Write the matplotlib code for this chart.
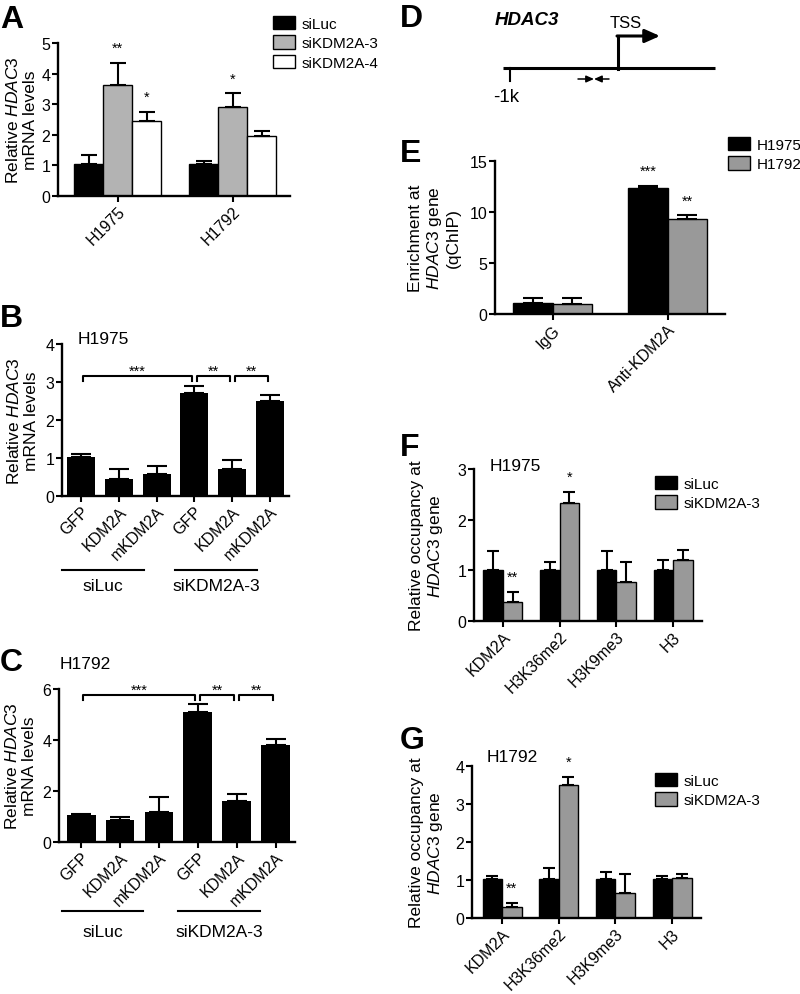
import matplotlib
matplotlib.use("Agg")
import matplotlib.pyplot as plt
import matplotlib.transforms as mtransforms
from matplotlib.patches import Patch
import numpy as np

plt.rcParams["font.family"] = ["Liberation Sans", "DejaVu Sans"]
plt.rcParams["mathtext.fontset"] = "custom"
plt.rcParams["mathtext.rm"] = "Liberation Sans"
plt.rcParams["mathtext.it"] = "Liberation Sans:italic"
plt.rcParams["mathtext.bf"] = "Liberation Sans:bold"

W, H = 800, 995

# ---------------- data ----------------
# A: HDAC3 mRNA after KDM2A knockdown
a_cells = ["H1975", "H1792"]
a_series = ["siLuc", "siKDM2A-3", "siKDM2A-4"]
a_mean = [[1.03, 1.03], [3.63, 2.90], [2.44, 1.95]]
a_err = [[0.30, 0.11], [0.72, 0.45], [0.32, 0.18]]
a_stars = [["", ""], ["**", "*"], ["*", ""]]

# B / C: rescue experiments
rescue_labels = ["GFP", "KDM2A", "mKDM2A", "GFP", "KDM2A", "mKDM2A"]
rescue_groups = ["siLuc", "siKDM2A-3"]
b_mean = [1.03, 0.46, 0.59, 2.72, 0.72, 2.50]
b_err = [0.07, 0.26, 0.19, 0.18, 0.23, 0.17]
c_mean = [1.05, 0.87, 1.18, 5.11, 1.61, 3.80]
c_err = [0.04, 0.10, 0.59, 0.30, 0.26, 0.25]
rescue_brackets = [(0, 3, "***"), (3, 4, "**"), (4, 5, "**")]

# E: qChIP
e_ab = ["IgG", "Anti-KDM2A"]
e_series = ["H1975", "H1792"]
e_mean = [[1.11, 12.35], [1.02, 9.33]]
e_err = [[0.49, 0.20], [0.55, 0.33]]
e_stars = [["", "***"], ["", "**"]]

# F / G: occupancy
occ_marks = ["KDM2A", "H3K36me2", "H3K9me3", "H3"]
occ_series = ["siLuc", "siKDM2A-3"]
f_mean = [[1.01, 1.01, 1.01, 1.01], [0.38, 2.33, 0.77, 1.21]]
f_err = [[0.38, 0.16, 0.38, 0.19], [0.20, 0.21, 0.40, 0.20]]
g_mean = [[1.03, 1.03, 1.03, 1.03], [0.28, 3.50, 0.66, 1.05]]
g_err = [[0.08, 0.28, 0.19, 0.08], [0.11, 0.21, 0.50, 0.11]]
occ_stars = [["", "", "", ""], ["**", "*", "", ""]]


def rect(x0, x1, ytop, ybot):
    return [x0 / W, 1 - ybot / H, (x1 - x0) / W, (ybot - ytop) / H]


def style(ax, ylim, yticks, xlim, labels, ylabel, ylabel_x):
    for s in ["top", "right"]:
        ax.spines[s].set_visible(False)
    for s in ["left", "bottom"]:
        ax.spines[s].set_linewidth(1.7)
    ax.set_ylim(*ylim)
    ax.set_yticks(yticks)
    ax.set_xlim(*xlim)
    ax.set_xticks(np.arange(len(labels)))
    ax.set_xticklabels(labels, rotation=45, ha="right", rotation_mode="anchor")
    ax.tick_params(direction="out", length=4.5, width=1.5, labelsize=11.5, pad=1)
    ax.set_ylabel(ylabel, fontsize=12.5, linespacing=1.15)
    ax.yaxis.set_label_coords(ylabel_x, 0.5)


def star(ax, x, y, s, dy=8):
    if s:
        ax.annotate(s, xy=(x, y), xytext=(0, dy), textcoords="offset points",
                    ha="center", va="baseline", fontsize=10.5)


def grouped(ax, means, errs, colors, width, capsize, stars=None):
    k = len(means)
    x = np.arange(len(means[0]))
    for s in range(k):
        xs = x + (s - (k - 1) / 2) * width
        ax.bar(xs, means[s], width, color=colors[s], edgecolor="black", linewidth=1, zorder=2)
        ax.errorbar(xs, means[s], yerr=[np.zeros(len(xs)), errs[s]], fmt="none",
                    ecolor="black", elinewidth=1.5, capsize=capsize, capthick=1.5, zorder=3)
        if stars:
            for xi, m, e, st in zip(xs, means[s], errs[s], stars[s]):
                star(ax, xi, m + e, st)


def legend(handles, labels, x, y):
    fig.legend(handles, labels, loc="upper left", bbox_to_anchor=(x / W, 1 - y / H),
               frameon=False, fontsize=11, handlelength=1.45, handleheight=0.95,
               handletextpad=0.45, labelspacing=0.3, borderpad=0, borderaxespad=0)


def patches(colors):
    return [Patch(facecolor=c, edgecolor="black", linewidth=1) for c in colors]


fig = plt.figure(figsize=(W / 100, H / 100), dpi=100)

# overlay in pixel coordinates for the diagram
ov = fig.add_axes([0, 0, 1, 1], zorder=-1)
ov.set_xlim(0, W)
ov.set_ylim(H, 0)
ov.axis("off")

ylab_mrna = "Relative $\\it{HDAC3}$\nmRNA levels"
ylab_occ = "Relative occupancy at\n$\\it{HDAC3}$ gene"

# ---- A ----
a_colors = ["black", "#b3b3b3", "white"]
ax = fig.add_axes(rect(58, 290, 44, 197))
grouped(ax, a_mean, a_err, a_colors, 0.252, 5.5, a_stars)
style(ax, (0, 5), range(6), (-0.52, 1.5), a_cells, ylab_mrna, -0.085)
legend(patches(a_colors), a_series, 273, 17)

# ---- B / C ----
def rescue(r, mean, err, ylim, yticks, xlim, title, title_xy, br_y, tip, line_y, text_y, ylabel_x, line_ext):
    ax = fig.add_axes(r)
    x = np.arange(len(mean))
    ax.bar(x, mean, 0.74, color="black", zorder=2)
    ax.errorbar(x, mean, yerr=[np.zeros(len(x)), err], fmt="none", ecolor="black",
                elinewidth=1.5, capsize=7, capthick=1.5, zorder=3)
    style(ax, ylim, yticks, xlim, rescue_labels, ylab_mrna, ylabel_x)
    ax.text(title_xy[0], title_xy[1], title, transform=ax.transAxes, fontsize=12.5, ha="left", va="center")
    for i, j, s in rescue_brackets:
        x0, x1 = i + 0.06, j - 0.06
        ax.plot([x0, x0, x1, x1], [br_y - tip, br_y, br_y, br_y - tip], color="black", lw=1.5, clip_on=False)
        star(ax, (x0 + x1) / 2, br_y, s, dy=0.5)
    tr = mtransforms.blended_transform_factory(ax.transData, ax.transAxes)
    for g, name in enumerate(rescue_groups):
        gx0 = 3 * g + line_ext[0]
        gx1 = 3 * g + line_ext[1]
        ax.plot([gx0, gx1], [line_y, line_y], color="black", lw=1.5, transform=tr, clip_on=False)
        ax.text((gx0 + gx1) / 2, text_y, name, transform=tr, ha="center", va="center", fontsize=12.5)


rescue(rect(62, 289, 345, 497), b_mean, b_err, (0, 4), range(5), (-0.5, 5.5), "H1975",
       (0.07, 1.035), 3.16, 0.13, -0.487, -0.59, -0.1, (-0.5, 1.66))
rescue(rect(59, 295, 690, 843), c_mean, c_err, (0, 6), range(0, 7, 2), (-0.57, 5.5), "H1792",
       (0.004, 1.165), 5.77, 0.19, -0.451, -0.585, -0.092, (-0.5, 1.6))

# ---- D (diagram) ----
ov.plot([503, 715], [69, 69], color="black", lw=2.2, solid_capstyle="butt")
ov.plot([510, 510], [69, 82], color="black", lw=1.5)
ov.plot([618, 618], [70, 37], color="black", lw=2.2, solid_capstyle="projecting")
ov.annotate("", xy=(660, 37), xytext=(617, 37),
            arrowprops=dict(arrowstyle="-|>,head_length=0.9,head_width=0.4", lw=2.2,
                            color="black", shrinkA=0, shrinkB=0))
ov.annotate("", xy=(594, 80), xytext=(578, 80),
            arrowprops=dict(arrowstyle="-|>,head_length=0.45,head_width=0.2", lw=1.1,
                            color="black", shrinkA=0, shrinkB=0))
ov.annotate("", xy=(594, 80), xytext=(609, 80),
            arrowprops=dict(arrowstyle="-|>,head_length=0.45,head_width=0.2", lw=1.1,
                            color="black", shrinkA=0, shrinkB=0))
ov.text(495, 25, "HDAC3", fontsize=13.5, fontweight="bold", fontstyle="italic", va="baseline")
ov.text(626, 28, "TSS", fontsize=12, ha="center", va="baseline")
ov.text(506, 102, "-1k", fontsize=13.5, ha="center", va="baseline")

# ---- E ----
e_colors = ["black", "#999999"]
ax = fig.add_axes(rect(495, 725, 162, 315))
grouped(ax, e_mean, e_err, e_colors, 0.34, 7, e_stars)
style(ax, (0, 15), range(0, 16, 5), (-0.5, 1.5), e_ab,
      "Enrichment at\n$\\it{HDAC3}$ gene\n(qChIP)", -0.15)
legend(patches(e_colors), e_series, 728, 138)

# ---- F ----
occ_colors = ["black", "#999999"]
ax = fig.add_axes(rect(474, 702, 470, 622))
grouped(ax, f_mean, f_err, occ_colors, 0.344, 4.5, occ_stars)
style(ax, (0, 3), range(4), (-0.51, 3.51), occ_marks, ylab_occ, -0.127)
ax.text(0.07, 1.02, "H1975", transform=ax.transAxes, fontsize=12.5, ha="left", va="center")
legend(patches(occ_colors), occ_series, 655, 477)

# ---- G ----
ax = fig.add_axes(rect(472, 701, 767, 919))
grouped(ax, g_mean, g_err, occ_colors, 0.344, 4.5, occ_stars)
style(ax, (0, 4), range(5), (-0.53, 3.51), occ_marks, ylab_occ, -0.118)
ax.text(0.066, 1.06, "H1792", transform=ax.transAxes, fontsize=12.5, ha="left", va="center")
legend(patches(occ_colors), occ_series, 655, 774)

# panel letters
for letter, x, y in [("A", 0, 28), ("B", 0, 327), ("C", 0, 671), ("D", 400, 27),
                     ("E", 400, 162), ("F", 400, 456), ("G", 400, 749)]:
    fig.text(x / W, 1 - y / H, letter, fontsize=23, fontweight="bold", ha="left", va="baseline")

fig.savefig("out.png", dpi=100)
